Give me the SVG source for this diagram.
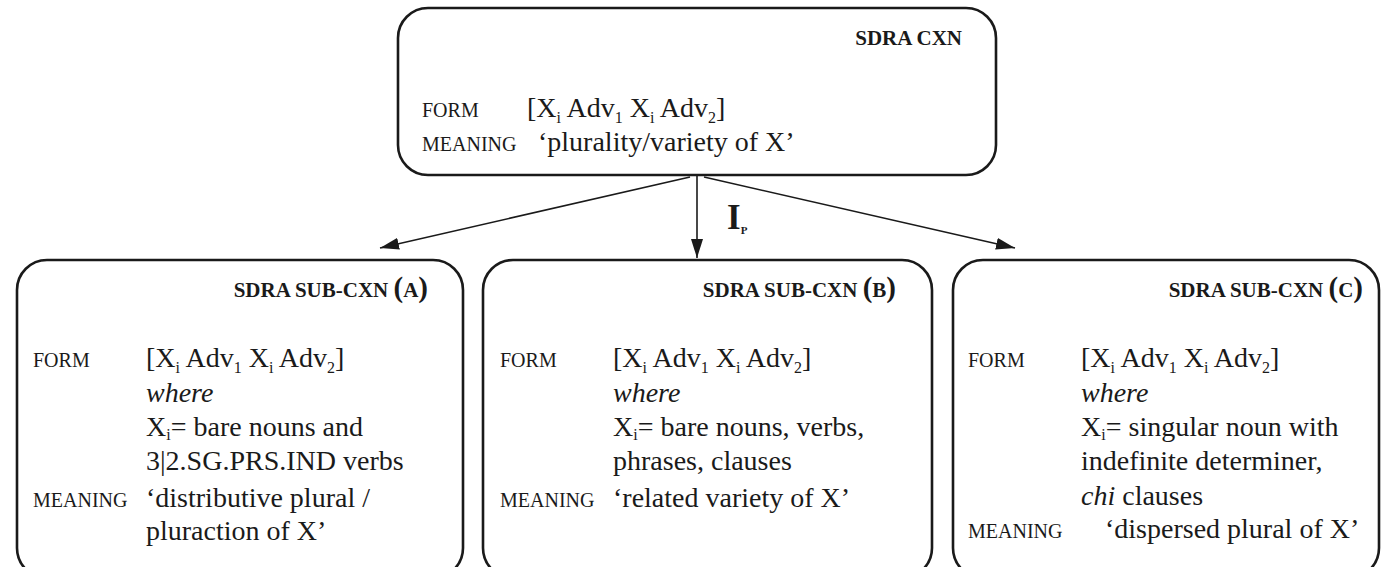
<svg xmlns="http://www.w3.org/2000/svg" width="1381" height="567" viewBox="0 0 1381 567">
<style>
.box{fill:#fff;stroke:#1a1a1a;stroke-width:2.6}
.t{font-family:"Liberation Serif","Times New Roman",serif;font-size:28px;fill:#1a1a1a}
.sc{font-family:"Liberation Serif","Times New Roman",serif;font-size:20px;fill:#1a1a1a}
.ti{font-family:"Liberation Serif","Times New Roman",serif;font-size:21px;font-weight:bold;fill:#1a1a1a}
.par{font-size:29px}
.sub{font-size:16px}
.it{font-style:italic}
.conn{stroke:#1a1a1a;stroke-width:1.6;fill:none}
</style>
<defs>
<marker id="ah" markerUnits="userSpaceOnUse" markerWidth="19" markerHeight="12" refX="19" refY="6" orient="auto">
<path d="M0,0 L19,6 L0,12 z" fill="#1a1a1a"/>
</marker>
</defs>
<rect width="1381" height="567" fill="#fff"/>
<g id="connectors">
<line class="conn" x1="690" y1="177" x2="380" y2="248" marker-end="url(#ah)"/>
<line class="conn" x1="697" y1="176" x2="697" y2="258" marker-end="url(#ah)"/>
<line class="conn" x1="704" y1="177" x2="1015" y2="248" marker-end="url(#ah)"/>
<text x="727" y="229" font-family="Liberation Serif, serif" font-size="35" font-weight="bold" fill="#1a1a1a">I<tspan font-size="11" dy="5">P</tspan></text>
</g>
<g id="sdra-cxn">
<rect class="box" x="398" y="8" width="598" height="167" rx="30"/>
<text class="ti" x="962" y="45" text-anchor="end">SDRA CXN</text>
<text class="sc" x="422" y="117">FORM</text>
<text class="t" x="527" y="117">[X<tspan class="sub" dy="6">i</tspan><tspan dy="-6"> Adv</tspan><tspan class="sub" dy="6">1</tspan><tspan dy="-6"> X</tspan><tspan class="sub" dy="6">i</tspan><tspan dy="-6"> Adv</tspan><tspan class="sub" dy="6">2</tspan><tspan dy="-6">]</tspan></text>
<text class="sc" x="422" y="151">MEANING</text>
<text class="t" x="538" y="151">‘plurality/variety of X’</text>
</g>
<g id="sub-cxn-a">
<rect class="box" x="17" y="260" width="446" height="318" rx="30"/>
<text class="ti" x="428" y="297" text-anchor="end">SDRA SUB-CXN <tspan class="par">(</tspan>A<tspan class="par">)</tspan></text>
<text class="sc" x="33" y="367">FORM</text>
<text class="t" x="146" y="367">[X<tspan class="sub" dy="6">i</tspan><tspan dy="-6"> Adv</tspan><tspan class="sub" dy="6">1</tspan><tspan dy="-6"> X</tspan><tspan class="sub" dy="6">i</tspan><tspan dy="-6"> Adv</tspan><tspan class="sub" dy="6">2</tspan><tspan dy="-6">]</tspan></text>
<text class="t it" x="146" y="402">where</text>
<text class="t" x="146" y="436">X<tspan class="sub" dy="4">i</tspan><tspan dy="-4">= bare nouns and</tspan></text>
<text class="t" x="146" y="470">3|2.SG.PRS.IND verbs</text>
<text class="sc" x="33" y="507">MEANING</text>
<text class="t" x="146" y="507">‘distributive plural /</text>
<text class="t" x="146" y="540">pluraction of X’</text>
</g>
<g id="sub-cxn-b">
<rect class="box" x="483" y="260" width="449" height="318" rx="30"/>
<text class="ti" x="896" y="297" text-anchor="end">SDRA SUB-CXN <tspan class="par">(</tspan>B<tspan class="par">)</tspan></text>
<text class="sc" x="500" y="367">FORM</text>
<text class="t" x="613" y="367">[X<tspan class="sub" dy="6">i</tspan><tspan dy="-6"> Adv</tspan><tspan class="sub" dy="6">1</tspan><tspan dy="-6"> X</tspan><tspan class="sub" dy="6">i</tspan><tspan dy="-6"> Adv</tspan><tspan class="sub" dy="6">2</tspan><tspan dy="-6">]</tspan></text>
<text class="t it" x="613" y="402">where</text>
<text class="t" x="613" y="436">X<tspan class="sub" dy="4">i</tspan><tspan dy="-4">= bare nouns, verbs,</tspan></text>
<text class="t" x="613" y="470">phrases, clauses</text>
<text class="sc" x="500" y="507">MEANING</text>
<text class="t" x="613" y="507">‘related variety of X’</text>
</g>
<g id="sub-cxn-c">
<rect class="box" x="953" y="260" width="426" height="318" rx="30"/>
<text class="ti" x="1363" y="297" text-anchor="end">SDRA SUB-CXN <tspan class="par">(</tspan>C<tspan class="par">)</tspan></text>
<text class="sc" x="968" y="367">FORM</text>
<text class="t" x="1081" y="367">[X<tspan class="sub" dy="6">i</tspan><tspan dy="-6"> Adv</tspan><tspan class="sub" dy="6">1</tspan><tspan dy="-6"> X</tspan><tspan class="sub" dy="6">i</tspan><tspan dy="-6"> Adv</tspan><tspan class="sub" dy="6">2</tspan><tspan dy="-6">]</tspan></text>
<text class="t it" x="1081" y="402">where</text>
<text class="t" x="1081" y="436">X<tspan class="sub" dy="4">i</tspan><tspan dy="-4">= singular noun with</tspan></text>
<text class="t" x="1081" y="470">indefinite determiner,</text>
<text class="t" x="1081" y="505"><tspan class="it">chi</tspan> clauses</text>
<text class="sc" x="968" y="538">MEANING</text>
<text class="t" x="1105" y="538">‘dispersed plural of X’</text>
</g>
</svg>
